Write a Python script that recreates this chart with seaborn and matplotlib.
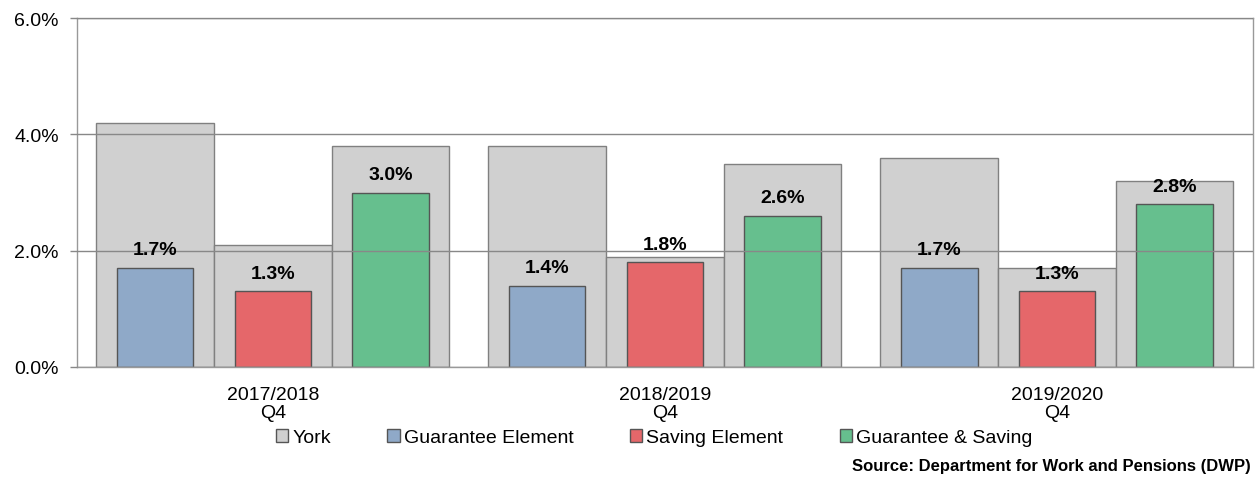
import pandas as pd
import matplotlib.pyplot as plt
from matplotlib.patches import Patch
import seaborn as sns

# values (percent)
periods = ['2017/2018\nQ4', '2018/2019\nQ4', '2019/2020\nQ4']
elements = ['Guarantee Element', 'Saving Element', 'Guarantee & Saving']
york = [[4.2, 2.1, 3.8],
        [3.8, 1.9, 3.5],
        [3.6, 1.7, 3.2]]
national = [[1.7, 1.3, 3.0],
            [1.4, 1.8, 2.6],
            [1.7, 1.3, 2.8]]
colors = ['#8fa9c8', '#e5676a', '#66bf8e']
grey = '#d0d0d0'

rows = []
for i, p in enumerate(periods):
    for j, e in enumerate(elements):
        rows.append({'period': p, 'element': e, 'york': york[i][j], 'rate': national[i][j]})
df = pd.DataFrame(rows)

sns.set_style('white')
plt.rcParams['font.family'] = ['Liberation Sans', 'DejaVu Sans']
plt.rcParams['text.color'] = 'black'
plt.rcParams['xtick.color'] = 'black'
plt.rcParams['ytick.color'] = 'black'

fig, ax = plt.subplots(figsize=(12.58, 4.81), dpi=100)
fig.subplots_adjust(left=0.061, right=0.996, top=0.960, bottom=0.235)

# wide grey York bars behind
sns.barplot(data=df, x='period', y='york', hue='element', palette=[grey] * 3,
            width=0.9, saturation=1, errorbar=None, legend=False,
            edgecolor='#808080', linewidth=1, ax=ax)
# narrow coloured bars in front
sns.barplot(data=df, x='period', y='rate', hue='element', palette=colors,
            width=0.9, gap=0.35, saturation=1, errorbar=None, legend=False,
            edgecolor='#555555', linewidth=1, ax=ax)

for c in ax.containers[3:]:
    ax.bar_label(c, fmt='%.1f%%', padding=7, fontsize=14, fontweight='bold', color='black')

ax.set_ylim(0, 6)
ax.set_xlim(-0.5, 2.5)
ax.set_yticks([0, 2, 4, 6])
ax.set_yticklabels(['%.1f%%' % v for v in [0, 2, 4, 6]], fontsize=14)
ax.set_xticks(range(3))
ax.set_xticklabels(periods, fontsize=14, linespacing=1.05)
ax.set_xticks([-0.5, 0.5, 1.5, 2.5], minor=True)
ax.tick_params(axis='x', which='major', length=0, pad=14)
ax.tick_params(axis='x', which='minor', length=9, color='#888888', width=1)
ax.tick_params(axis='y', length=5, color='#888888', width=1, pad=8, left=True)
ax.set_xlabel('')
ax.set_ylabel('')

ax.set_axisbelow(False)
ax.yaxis.grid(True, color='#888888', linewidth=1)
for s in ax.spines.values():
    s.set_color('#999999')
    s.set_linewidth(1)

handles = [Patch(facecolor=grey, edgecolor='#555555', label='York')]
handles += [Patch(facecolor=c, edgecolor='#555555', label=e) for c, e in zip(colors, elements)]
fig.legend(handles=handles, loc='center', bbox_to_anchor=(0.52, 0.089), ncol=4,
           frameon=False, fontsize=14, handlelength=0.65, handleheight=0.65,
           handletextpad=0.2, columnspacing=2.9)

fig.text(0.994, 0.03, 'Source: Department for Work and Pensions (DWP)',
         ha='right', va='center', fontsize=12, fontweight='bold')

plt.savefig('out.png', dpi=100)
